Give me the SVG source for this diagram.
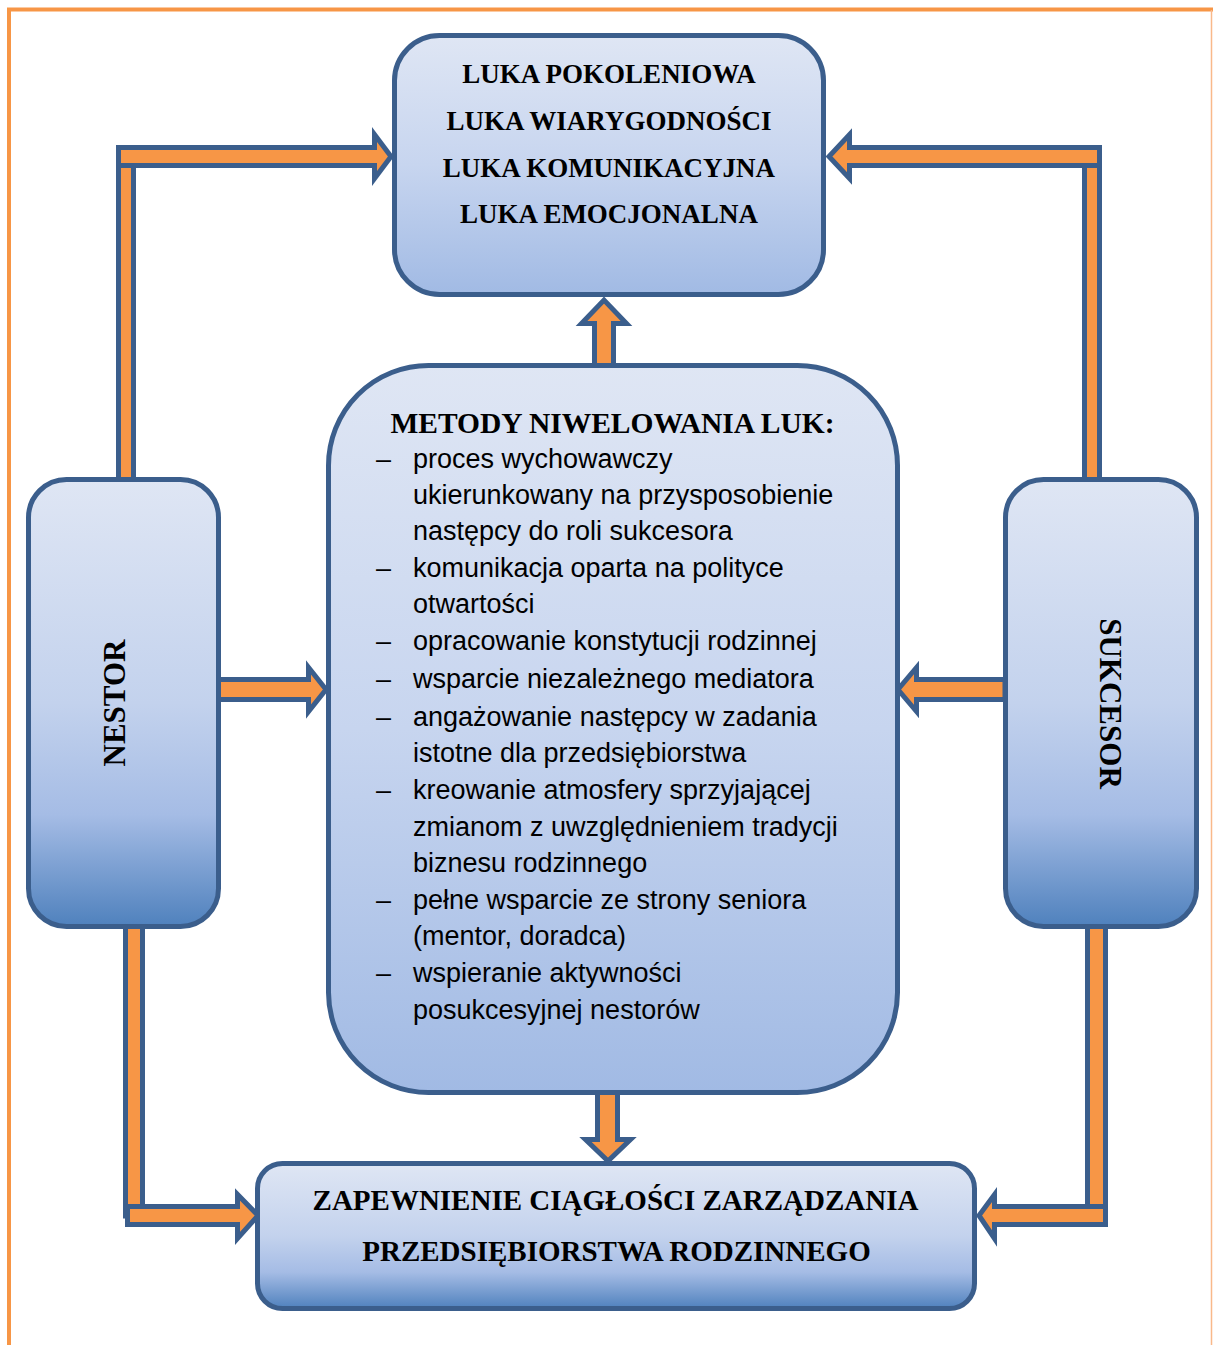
<svg xmlns="http://www.w3.org/2000/svg" width="1213" height="1345" viewBox="0 0 1213 1345">
<defs>
<linearGradient id="gA" x1="0" y1="0" x2="0" y2="1">
<stop offset="0" stop-color="#dfe6f4"/>
<stop offset="0.5" stop-color="#c7d5ef"/>
<stop offset="1" stop-color="#a1bae4"/>
</linearGradient>
<linearGradient id="gB" x1="0" y1="0" x2="0" y2="1">
<stop offset="0" stop-color="#dfe6f4"/>
<stop offset="0.5" stop-color="#c3d2ed"/>
<stop offset="0.75" stop-color="#a5bce5"/>
<stop offset="1" stop-color="#4f81bd"/>
</linearGradient>
<style>
.box{stroke:#3b5e8c;stroke-width:5}
.arr{fill:#f79646;stroke:#3b5e8c;stroke-width:5;stroke-linejoin:miter}
.hd{font-family:"Liberation Serif","Times New Roman",serif;font-weight:bold;fill:#000}
.li{font-family:"Liberation Sans",Arial,sans-serif;font-size:27px;fill:#000}
</style>
</defs>
<rect width="1213" height="1345" fill="#fff"/>
<path d="M9 1345 V9.5 H1213" fill="none" stroke="#f79646" stroke-width="4"/>
<line x1="1211.5" y1="10" x2="1211.5" y2="1345" stroke="#f9b98a" stroke-width="1.5"/>

<g id="connectors">
<rect class="arr" x="118.5" y="160" width="15" height="320"/>
<polygon class="arr" points="118.5,147.5 374.5,147.5 374.5,134.5 391,156.5 374.5,178.5 374.5,165.5 118.5,165.5"/>
<rect class="arr" x="1084.5" y="160" width="15" height="320"/>
<polygon class="arr" points="1099.5,147.5 849.5,147.5 849.5,134.5 829,156.5 849.5,178.5 849.5,165.5 1099.5,165.5"/>
<polygon class="arr" points="594.5,367 594.5,323.5 581.5,323.5 604,300 626.5,323.5 613.5,323.5 613.5,367"/>
<polygon class="arr" points="218,679.5 308.5,679.5 308.5,667.5 326,689.5 308.5,711.5 308.5,699.5 218,699.5"/>
<polygon class="arr" points="1005,679.5 916.5,679.5 916.5,667.5 898,689.5 916.5,711.5 916.5,699.5 1005,699.5"/>
<polygon class="arr" points="597.5,1092 597.5,1139.5 585.5,1139.5 608,1161 630.5,1139.5 617.5,1139.5 617.5,1092"/>
<rect class="arr" x="125.5" y="926" width="17" height="290"/>
<polygon class="arr" points="127.5,1206.5 237.5,1206.5 237.5,1194.5 258,1215.5 237.5,1238.5 237.5,1224.5 127.5,1224.5"/>
<rect class="arr" x="1087.5" y="926" width="18" height="290"/>
<polygon class="arr" points="1105.5,1206.5 994.5,1206.5 994.5,1194.5 979,1215.5 994.5,1238.5 994.5,1224.5 1105.5,1224.5"/>
</g>

<g id="luki">
<rect class="box" x="394.5" y="35.5" width="429" height="259" rx="45" fill="url(#gA)"/>
<g class="hd" font-size="27" text-anchor="middle">
<text x="609" y="83">LUKA POKOLENIOWA</text>
<text x="609" y="130">LUKA WIARYGODNOŚCI</text>
<text x="609" y="177">LUKA KOMUNIKACYJNA</text>
<text x="609" y="223">LUKA EMOCJONALNA</text>
</g>
</g>

<g id="metody">
<rect class="box" x="328.5" y="365.5" width="569" height="727" rx="100" fill="url(#gA)"/>
<text class="hd" font-size="29.5" x="612.5" y="432.5" text-anchor="middle">METODY NIWELOWANIA LUK:</text>
<g class="li">
<text x="376" y="468">–</text><text x="413" y="468">proces wychowawczy</text>
<text x="413" y="504">ukierunkowany na przysposobienie</text>
<text x="413" y="540">następcy do roli sukcesora</text>
<text x="376" y="577">–</text><text x="413" y="577">komunikacja oparta na polityce</text>
<text x="413" y="613">otwartości</text>
<text x="376" y="650">–</text><text x="413" y="650">opracowanie konstytucji rodzinnej</text>
<text x="376" y="688">–</text><text x="413" y="688">wsparcie niezależnego mediatora</text>
<text x="376" y="726">–</text><text x="413" y="726">angażowanie następcy w zadania</text>
<text x="413" y="762">istotne dla przedsiębiorstwa</text>
<text x="376" y="799">–</text><text x="413" y="799">kreowanie atmosfery sprzyjającej</text>
<text x="413" y="836">zmianom z uwzględnieniem tradycji</text>
<text x="413" y="872">biznesu rodzinnego</text>
<text x="376" y="909">–</text><text x="413" y="909">pełne wsparcie ze strony seniora</text>
<text x="413" y="945">(mentor, doradca)</text>
<text x="376" y="982">–</text><text x="413" y="982">wspieranie aktywności</text>
<text x="413" y="1019">posukcesyjnej nestorów</text>
</g>
</g>

<g id="nestor">
<rect class="box" x="28.5" y="479.5" width="190" height="447" rx="38" fill="url(#gB)"/>
<text class="hd" font-size="31" text-anchor="middle" transform="translate(125,703) rotate(-90)">NESTOR</text>
</g>

<g id="sukcesor">
<rect class="box" x="1005.5" y="479.5" width="191" height="447" rx="38" fill="url(#gB)"/>
<text class="hd" font-size="31" text-anchor="middle" transform="translate(1100,703.5) rotate(90)">SUKCESOR</text>
</g>

<g id="ciaglosc">
<rect class="box" x="257.5" y="1163.5" width="717" height="145" rx="25" fill="url(#gB)"/>
<g class="hd" font-size="29" text-anchor="middle">
<text x="615.5" y="1210">ZAPEWNIENIE CIĄGŁOŚCI ZARZĄDZANIA</text>
<text x="616.5" y="1261">PRZEDSIĘBIORSTWA RODZINNEGO</text>
</g>
</g>
</svg>
